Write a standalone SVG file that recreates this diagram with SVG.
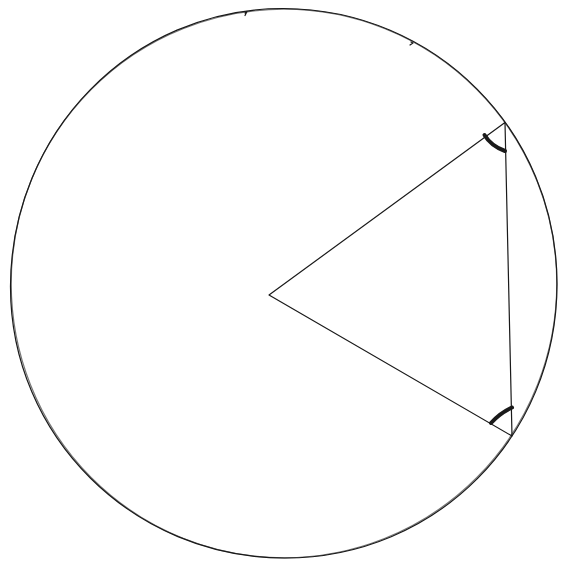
<svg xmlns="http://www.w3.org/2000/svg" width="567" height="567" viewBox="0 0 567 567">
<style>
.ln{fill:none;stroke:#1a1a1a;stroke-width:1.2;stroke-linecap:round;stroke-linejoin:round}
.arc{fill:none;stroke:#1a1a1a;stroke-width:4;stroke-linecap:round}
</style>
<rect width="567" height="567" fill="#ffffff"/>
<g id="circle">
<path class="ln" d="M283.5,8.5 C435,9 557,131 557,284 C557,437 436,558 285,558 C133,558 10,436 10.5,286 C11,133 132,8 283.5,8.5 Z"/>
<ellipse class="ln" cx="284" cy="283.5" rx="272.8" ry="274.3" stroke-opacity="0.6"/>
<path class="ln" d="M245,13 l2,-1.5 l-2,4"/>
<path class="ln" d="M411,42 l2,1 l-3,2"/>
</g>
<g id="triangle">
<path class="ln" d="M269,295 L505,122.5 L512,436 Z"/>
</g>
<g id="angle-marks">
<path class="arc" d="M484.5,135 Q491,146 505,151"/>
<path class="arc" d="M491,423 Q500,413 512,407.5"/>
</g>
</svg>
